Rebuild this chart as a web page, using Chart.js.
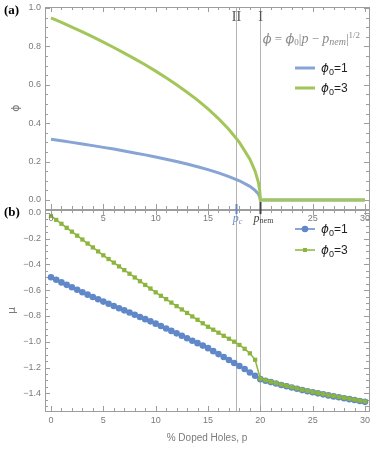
<!DOCTYPE html>
<html>
<head>
<meta charset="utf-8">
<script src="https://cdn.jsdelivr.net/npm/chart.js@4.4.1/dist/chart.umd.min.js"></script>
<style>
body { margin: 0; background: #fff; }
#wrap { position: relative; width: 374px; height: 449px; }
#wrap canvas { position: absolute; left: 0; top: 0; }
</style>
</head>
<body>
<div id="wrap">
  <canvas id="muChart" width="374" height="449"></canvas>
  <canvas id="phiChart" width="374" height="449"></canvas>
</div>
<script>
// doping (%) and order parameter, panel (a)
const phiDoping = [0, 1, 2, 3, 4, 5, 6, 7, 8, 9, 10, 11, 12, 13, 14, 15, 16, 17, 18, 19, 19.5, 19.8, 19.95, 20, 30];
const phiOne = [0.316, 0.308, 0.300, 0.292, 0.283, 0.274, 0.265, 0.255, 0.245, 0.235, 0.224, 0.212, 0.200,
                0.187, 0.173, 0.158, 0.141, 0.122, 0.100, 0.071, 0.050, 0.032, 0.016, 0, 0];
const phiThree = [0.949, 0.925, 0.900, 0.875, 0.849, 0.822, 0.794, 0.765, 0.735, 0.704, 0.671, 0.636, 0.600,
                  0.561, 0.520, 0.474, 0.424, 0.367, 0.300, 0.212, 0.150, 0.095, 0.047, 0, 0];

// doping (%) and chemical potential, panel (b)
const muDoping = [0, 0.5, 1, 1.5, 2, 2.5, 3, 3.5, 4, 4.5, 5, 5.5, 6, 6.5, 7, 7.5, 8, 8.5, 9, 9.5,
                  10, 10.5, 11, 11.5, 12, 12.5, 13, 13.5, 14, 14.5, 15, 15.5, 16, 16.5, 17, 17.5, 18, 18.5, 19, 19.5,
                  20, 20.5, 21, 21.5, 22, 22.5, 23, 23.5, 24, 24.5, 25, 25.5, 26, 26.5, 27, 27.5, 28, 28.5, 29, 29.5, 30];
const muOne = [-0.500, -0.520, -0.540, -0.559, -0.578, -0.597, -0.616, -0.635, -0.653, -0.671,
               -0.689, -0.706, -0.723, -0.740, -0.757, -0.774, -0.791, -0.808, -0.825, -0.842,
               -0.860, -0.878, -0.897, -0.916, -0.935, -0.954, -0.973, -0.992, -1.011, -1.030,
               -1.050, -1.073, -1.096, -1.119, -1.142, -1.165, -1.188, -1.212, -1.238, -1.264,
               -1.290, -1.302, -1.313, -1.324, -1.335, -1.345, -1.355, -1.365, -1.375, -1.384,
               -1.392, -1.400, -1.408, -1.416, -1.424, -1.431, -1.438, -1.445, -1.452, -1.459, -1.466];
const muThree = [-0.025, -0.056, -0.086, -0.117, -0.147, -0.178, -0.208, -0.239, -0.269, -0.300,
                 -0.330, -0.359, -0.387, -0.416, -0.445, -0.473, -0.502, -0.531, -0.560, -0.588,
                 -0.617, -0.644, -0.670, -0.697, -0.724, -0.750, -0.777, -0.804, -0.830, -0.857,
                 -0.884, -0.907, -0.930, -0.954, -0.977, -1.000, -1.025, -1.055, -1.090, -1.140,
                 -1.286, -1.299, -1.310, -1.321, -1.332, -1.342, -1.352, -1.362, -1.372, -1.381,
                 -1.389, -1.397, -1.405, -1.413, -1.421, -1.428, -1.435, -1.442, -1.449, -1.456, -1.463];

const xTicks = [0, 5, 10, 15, 20, 25, 30];
const phiTicks = [0, 0.2, 0.4, 0.6, 0.8, 1.0];
const muTicks = [0, -0.2, -0.4, -0.6, -0.8, -1.0, -1.2, -1.4];
const pCritical = 17.7;
const pNem = 20;

const frameColor = '#9d9d9d';
const labelColor = '#7a7a7a';
const blueLine = '#87a4d5', greenLine = '#a3c65a';
const blueMark = '#6088c8', greenMark = '#8cb53d';
const tickFont = { family: 'Liberation Sans, Arial, sans-serif', size: 9 };

function toPts(xs, ys) {
    return xs.map((x, i) => ({ x: x, y: ys[i] }));
}

// draw a row of text pieces with their own fonts / vertical shifts
function drawRuns(ctx, runs, x, y, align) {
    let w = 0;
    runs.forEach(r => { ctx.font = r[1]; w += ctx.measureText(r[0]).width; });
    let cx = align === 'right' ? x - w : (align === 'center' ? x - w / 2 : x);
    ctx.textAlign = 'left';
    ctx.textBaseline = 'alphabetic';
    runs.forEach(r => {
        ctx.font = r[1];
        ctx.fillText(r[0], cx, y + (r[2] || 0));
        cx += ctx.measureText(r[0]).width;
    });
}

function fixSize(w, h) {
    return function (scale) {
        if (w !== null) scale.width = w;
        if (h !== null) scale.height = h;
        scale.paddingTop = 0; scale.paddingBottom = 0;
        scale.paddingLeft = 0; scale.paddingRight = 0;
    };
}

function yLabel(v) {
    if (Math.abs(v) < 1e-9) return '0.0';
    return v < 0 ? '\u2212' + Math.abs(v).toFixed(1) : v.toFixed(1);
}

// frame with inward major/minor ticks plus the two vertical guide lines
const framePlugin = {
    id: 'frame',
    beforeDatasetsDraw(chart) {
        const ctx = chart.ctx;
        const { left, right, top, bottom } = chart.chartArea;
        const xs = chart.scales.x, ys = chart.scales.y;
        ctx.save();
        ctx.strokeStyle = '#b4b4b4';
        ctx.lineWidth = 1;
        [pCritical, pNem].forEach(v => {
            const px = Math.round(xs.getPixelForValue(v)) + 0.5;
            ctx.beginPath(); ctx.moveTo(px, top); ctx.lineTo(px, bottom); ctx.stroke();
        });
        ctx.strokeStyle = frameColor;
        ctx.strokeRect(Math.round(left) + 0.5, Math.round(top) + 0.5, Math.round(right - left), Math.round(bottom - top));
        ctx.beginPath();
        for (let v = 0; v <= 30; v++) {
            const len = v % 5 === 0 ? 5 : 3;
            const px = Math.round(xs.getPixelForValue(v)) + 0.5;
            ctx.moveTo(px, bottom); ctx.lineTo(px, bottom - len);
            ctx.moveTo(px, top); ctx.lineTo(px, top + len);
        }
        for (let k = -40; k <= 40; k++) {
            const v = k * 0.05;
            if (v < ys.min || v > ys.max) continue;
            const len = k % 4 === 0 ? 5 : 3;
            const py = Math.round(ys.getPixelForValue(v)) + 0.5;
            ctx.moveTo(left, py); ctx.lineTo(left + len, py);
            ctx.moveTo(right, py); ctx.lineTo(right - len, py);
        }
        ctx.stroke();
        ctx.restore();
    }
};

const phiNotes = {
    id: 'phiNotes',
    afterDraw(chart) {
        const ctx = chart.ctx;
        const xs = chart.scales.x;
        const { bottom } = chart.chartArea;
        const xc = Math.round(xs.getPixelForValue(pCritical)) + 0.5;
        const xn = Math.round(xs.getPixelForValue(pNem)) + 0.5;
        ctx.save();
        // special ticks
        ctx.lineWidth = 2;
        ctx.strokeStyle = blueMark;
        ctx.beginPath(); ctx.moveTo(xc, bottom - 5); ctx.lineTo(xc, bottom + 5); ctx.stroke();
        ctx.strokeStyle = '#444';
        ctx.beginPath(); ctx.moveTo(xn, bottom - 7); ctx.lineTo(xn, bottom + 5); ctx.stroke();
        ctx.fillStyle = '#6f8fca';
        drawRuns(ctx, [['p', 'italic 12px Liberation Serif'], ['c', 'italic 8px Liberation Serif', 2]], xc + 1, bottom + 13, 'center');
        ctx.fillStyle = '#444';
        drawRuns(ctx, [['p', 'italic 12px Liberation Serif'], ['nem', '8px Liberation Serif', 1]], xn + 3, bottom + 13, 'center');
        // phase labels
        ctx.fillStyle = '#555';
        ctx.font = '14px Liberation Serif';
        ctx.textAlign = 'center';
        ctx.textBaseline = 'alphabetic';
        ctx.fillText('II', xc, 21);
        ctx.fillText('I', xn, 21);
        // formula
        ctx.fillStyle = '#8a8a8a';
        drawRuns(ctx, [
            ['\u03d5', 'italic 13px DejaVu Serif'],
            [' = ', '13px Liberation Serif'],
            ['\u03d5', 'italic 13px DejaVu Serif'],
            ['0', '9px Liberation Serif', 2],
            ['|', '13px Liberation Serif'],
            ['p', 'italic 14px Liberation Serif'],
            [' \u2212 ', '13px Liberation Serif'],
            ['p', 'italic 14px Liberation Serif'],
            ['nem', 'italic 10px Liberation Serif', 2],
            ['|', '13px Liberation Serif'],
            ['1/2', '9px Liberation Serif', -5]
        ], 360, 43, 'right');
        // legend
        const rows = [[blueLine, '1', 68], [greenLine, '3', 88]];
        rows.forEach(r => {
            ctx.strokeStyle = r[0];
            ctx.lineWidth = 3;
            ctx.beginPath(); ctx.moveTo(295, r[2]); ctx.lineTo(315, r[2]); ctx.stroke();
            ctx.fillStyle = '#222';
            drawRuns(ctx, [['\u03d5', 'italic 12px DejaVu Sans'], ['0', '9px Liberation Sans', 3], ['=' + r[1], '12px Liberation Sans']], 321, r[2] + 4, 'left');
        });
        ctx.fillStyle = '#000';
        ctx.font = 'bold 13px Liberation Serif';
        ctx.textAlign = 'left';
        ctx.fillText('(a)', 4, 14);
        ctx.restore();
    }
};

const muNotes = {
    id: 'muNotes',
    afterDraw(chart) {
        const ctx = chart.ctx;
        ctx.save();
        const rows = [[blueMark, '1', 229, 'circle'], [greenMark, '3', 250, 'rect']];
        rows.forEach(r => {
            ctx.strokeStyle = r[0];
            ctx.fillStyle = r[0];
            ctx.lineWidth = 1.5;
            ctx.beginPath(); ctx.moveTo(295, r[2]); ctx.lineTo(315, r[2]); ctx.stroke();
            if (r[3] === 'circle') {
                ctx.beginPath(); ctx.arc(305, r[2], 3.3, 0, Math.PI * 2); ctx.fill();
            } else {
                ctx.fillRect(303, r[2] - 2, 4, 4);
            }
            ctx.fillStyle = '#222';
            drawRuns(ctx, [['\u03d5', 'italic 12px DejaVu Sans'], ['0', '9px Liberation Sans', 3], ['=' + r[1], '12px Liberation Sans']], 321, r[2] + 4, 'left');
        });
        ctx.fillStyle = '#000';
        ctx.font = 'bold 13px Liberation Serif';
        ctx.textAlign = 'left';
        ctx.fillText('(b)', 4, 216);
        ctx.restore();
    }
};

// panel (b): chemical potential
new Chart(document.getElementById('muChart'), {
    type: 'line',
    data: {
        datasets: [
            {
                label: '\u03d50=1', data: toPts(muDoping, muOne),
                borderColor: blueMark, backgroundColor: blueMark, borderWidth: 1.5,
                pointStyle: 'circle', pointRadius: 3.3, pointBorderWidth: 0, order: 1
            },
            {
                label: '\u03d50=3', data: toPts(muDoping, muThree),
                borderColor: greenMark, backgroundColor: greenMark, borderWidth: 1.5,
                pointStyle: 'rect', pointRadius: 3, pointBorderWidth: 0, order: 0
            }
        ]
    },
    options: {
        responsive: false,
        animation: false,
        layout: { padding: { left: 0, right: 5, top: 210, bottom: 0 } },
        plugins: { legend: { display: false }, tooltip: { enabled: false } },
        scales: {
            x: {
                type: 'linear', min: -0.573, max: 30.38,
                afterBuildTicks: s => { s.ticks = xTicks.map(v => ({ value: v })); },
                afterFit: fixSize(null, 38),
                grid: { display: false, drawTicks: false }, border: { display: false },
                ticks: { font: tickFont, color: labelColor, padding: 4, maxRotation: 0, callback: v => String(v) },
                title: { display: true, text: '% Doped Holes, p', color: labelColor,
                         font: { family: 'Liberation Sans, Arial, sans-serif', size: 10 }, padding: { top: 0, bottom: 5 } }
            },
            y: {
                type: 'linear', min: -1.537, max: 0.021,
                afterBuildTicks: s => { s.ticks = muTicks.map(v => ({ value: v })); },
                afterFit: fixSize(45, null),
                grid: { display: false, drawTicks: false }, border: { display: false },
                ticks: { font: tickFont, color: labelColor, padding: 4, callback: yLabel },
                title: { display: true, text: '\u03bc', color: labelColor,
                         font: { family: 'DejaVu Sans', size: 11 }, padding: { top: 6, bottom: 0 } }
            }
        }
    },
    plugins: [framePlugin, muNotes]
});

// panel (a): order parameter
new Chart(document.getElementById('phiChart'), {
    type: 'line',
    data: {
        datasets: [
            {
                label: '\u03d50=1', data: toPts(phiDoping, phiOne),
                borderColor: blueLine, borderWidth: 3, pointRadius: 0, order: 1
            },
            {
                label: '\u03d50=3', data: toPts(phiDoping, phiThree),
                borderColor: greenLine, borderWidth: 3, pointRadius: 0, order: 0
            }
        ]
    },
    options: {
        responsive: false,
        animation: false,
        layout: { padding: { left: 0, right: 5, top: 7, bottom: 220 } },
        plugins: { legend: { display: false }, tooltip: { enabled: false } },
        scales: {
            x: {
                type: 'linear', min: -0.573, max: 30.38,
                afterBuildTicks: s => { s.ticks = xTicks.map(v => ({ value: v })); },
                afterFit: fixSize(null, 20),
                grid: { display: false, drawTicks: false }, border: { display: false },
                ticks: { font: tickFont, color: labelColor, padding: 4, maxRotation: 0,
                         callback: v => (v === pNem ? '' : String(v)) }
            },
            y: {
                type: 'linear', min: -0.047, max: 1.005,
                afterBuildTicks: s => { s.ticks = phiTicks.map(v => ({ value: v })); },
                afterFit: fixSize(45, null),
                grid: { display: false, drawTicks: false }, border: { display: false },
                ticks: { font: tickFont, color: labelColor, padding: 4, callback: yLabel },
                title: { display: true, text: '\u03d5', color: labelColor,
                         font: { family: 'DejaVu Sans', size: 11 }, padding: { top: 10, bottom: 0 } }
            }
        }
    },
    plugins: [framePlugin, phiNotes]
});
</script>
</body>
</html>
